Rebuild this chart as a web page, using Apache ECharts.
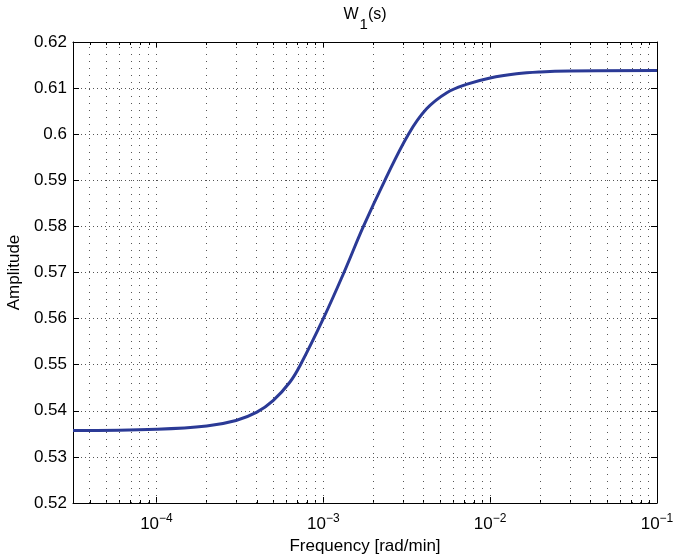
<!DOCTYPE html>
<html><head><meta charset="utf-8">
<script src="https://cdn.jsdelivr.net/npm/echarts@6/dist/echarts.min.js"></script>
<style>html,body{margin:0;padding:0;background:#fff}#c{width:673px;height:560px}</style>
</head><body><div id="c"></div>
<script>
// Frequency [rad/min] and amplitude
const frequency = [3.162e-5, 1e-4, 2e-4, 3e-4, 4e-4, 5e-4, 6.3e-4, 7.3e-4, 1e-3, 1.33e-3, 1.74e-3, 2.34e-3, 3.24e-3, 4.16e-3, 5.5e-3, 7.2e-3, 1e-2, 1.44e-2, 2e-2, 3e-2, 1e-1];
const amplitude = [0.5357, 0.5360, 0.5367, 0.5379, 0.5397, 0.5422, 0.5462, 0.5500, 0.5600, 0.5700, 0.5800, 0.5900, 0.6000, 0.6055, 0.6090, 0.6108, 0.6122, 0.6131, 0.6135, 0.6137, 0.6138];
const xRange = [3.1623e-5, 1e-1];
const xMajorTicks = [1e-4, 1e-3, 1e-2, 1e-1];
const xMinorTicks = [4e-5, 5e-5, 6e-5, 7e-5, 8e-5, 9e-5,
  2e-4, 3e-4, 4e-4, 5e-4, 6e-4, 7e-4, 8e-4, 9e-4,
  2e-3, 3e-3, 4e-3, 5e-3, 6e-3, 7e-3, 8e-3, 9e-3,
  2e-2, 3e-2, 4e-2, 5e-2, 6e-2, 7e-2, 8e-2, 9e-2];
const yMin = 0.52, yMax = 0.62, yStep = 0.01;
const titleText = '{m|W}{d|1}{m|(s)}';
const xName = 'Frequency [rad/min]';
const yName = 'Amplitude';

const lg = v => Math.log10(v);
const FONT = '"Liberation Sans", Arial, Helvetica, sans-serif';
const gridRect = {left: 73, right: 16, top: 42, bottom: 57, containLabel: false, outerBoundsMode: 'none'};
const majorLog = xMajorTicks.map(lg);
const minorLog = xMinorTicks.map(lg);
const gridLines = majorLog.concat(minorLog).filter(v => v < lg(xRange[1]) - 1e-9);
const titlePos = (lg(xRange[0]) + lg(xRange[1])) / 2;

const baseX = {
  type: 'value', min: lg(xRange[0]), max: lg(xRange[1]),
  splitLine: {show: false},
  axisLine: {show: true, onZero: false, lineStyle: {color: '#000', width: 1}}
};

const chart = echarts.init(document.getElementById('c'), null, {renderer: 'canvas'});
chart.setOption({
  animation: false,
  backgroundColor: '#fff',
  textStyle: {fontFamily: FONT},
  grid: [Object.assign({}, gridRect), Object.assign({}, gridRect)],
  xAxis: [
    Object.assign({}, baseX, {
      gridIndex: 0, position: 'bottom',
      name: xName, nameLocation: 'middle', nameGap: 32,
      nameTextStyle: {fontFamily: FONT, fontSize: 17, color: '#000'},
      axisTick: {show: true, inside: true, length: 6, customValues: majorLog, lineStyle: {color: '#000'}},
      axisLabel: {
        show: true, margin: 10, customValues: majorLog, color: '#000',
        fontFamily: FONT, fontSize: 17,
        formatter: v => '{b|10}{s|\u2212' + Math.round(-v) + '}',
        rich: {
          b: {fontFamily: FONT, fontSize: 17, color: '#000', verticalAlign: 'top', padding: [3, 0, 0, 0]},
          s: {fontFamily: FONT, fontSize: 12, color: '#000', verticalAlign: 'top'}
        }
      }
    }),
    Object.assign({}, baseX, {
      gridIndex: 0, position: 'top',
      axisTick: {show: true, inside: true, length: 6, customValues: majorLog, lineStyle: {color: '#000'}},
      axisLabel: {
        show: true, margin: 10, customValues: [titlePos], color: '#000',
        fontFamily: FONT, fontSize: 16,
        formatter: () => titleText,
        rich: {
          m: {fontFamily: FONT, fontSize: 16, color: '#000', verticalAlign: 'top'},
          d: {fontFamily: FONT, fontSize: 15, color: '#000', verticalAlign: 'top', padding: [10, 0, 0, 1]}
        }
      }
    }),
    Object.assign({}, baseX, {
      gridIndex: 1, position: 'bottom',
      axisLine: {show: false},
      axisTick: {show: true, inside: true, length: 3, customValues: minorLog, lineStyle: {color: '#000'}},
      axisLabel: {show: false}
    }),
    Object.assign({}, baseX, {
      gridIndex: 1, position: 'top',
      axisLine: {show: false},
      axisTick: {show: true, inside: true, length: 3, customValues: minorLog, lineStyle: {color: '#000'}},
      axisLabel: {show: false}
    })
  ],
  yAxis: [
    {
      type: 'value', gridIndex: 0, position: 'left', min: yMin, max: yMax, interval: yStep,
      name: yName, nameLocation: 'middle', nameGap: 49,
      nameTextStyle: {fontFamily: FONT, fontSize: 17, color: '#000'},
      axisLine: {show: true, onZero: false, lineStyle: {color: '#000', width: 1}},
      axisTick: {show: true, inside: true, length: 6, lineStyle: {color: '#000'}},
      axisLabel: {show: true, margin: 6, color: '#000', fontFamily: FONT, fontSize: 17,
        formatter: v => String(+v.toFixed(2))},
      splitLine: {show: true, lineStyle: {type: [1, 3], color: '#555', width: 1}}
    },
    {
      type: 'value', gridIndex: 0, position: 'right', min: yMin, max: yMax, interval: yStep,
      axisLine: {show: true, onZero: false, lineStyle: {color: '#000', width: 1}},
      axisTick: {show: true, inside: true, length: 6, lineStyle: {color: '#000'}},
      axisLabel: {show: false},
      splitLine: {show: false}
    },
    {
      type: 'value', gridIndex: 1, min: yMin, max: yMax, show: false
    }
  ],
  series: [
    {
      type: 'line', xAxisIndex: 0, yAxisIndex: 0, data: [], z: 1, silent: true,
      markLine: {
        silent: true, symbol: ['none', 'none'], animation: false, z: 1,
        label: {show: false},
        lineStyle: {type: [1, 6], color: '#555', width: 1},
        emphasis: {disabled: true},
        data: gridLines.map(v => ({xAxis: v}))
      }
    },
    {
      type: 'line', xAxisIndex: 0, yAxisIndex: 0, z: 5,
      data: frequency.map((f, i) => [lg(f), amplitude[i]]),
      showSymbol: false, symbol: 'none',
      smooth: 0.4,
      lineStyle: {color: '#2b3a96', width: 3},
      clip: true
    }
  ]
});
</script>
</body></html>
